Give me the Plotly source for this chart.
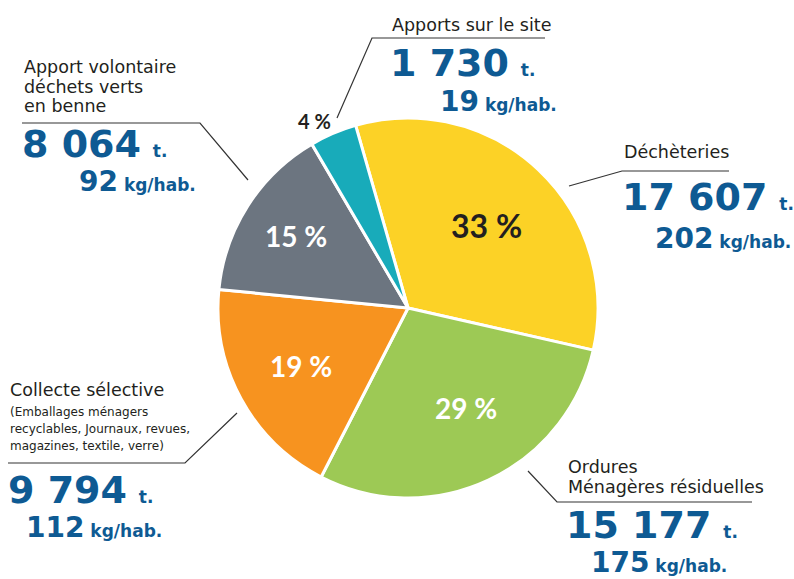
import math
import plotly.graph_objects as go

# ---- data ----
categories = ["Déchèteries", "Ordures Ménagères résiduelles", "Collecte sélective",
              "Apport volontaire déchets verts en benne", "Apports sur le site"]
percent = [33, 29, 19, 15, 4]
tonnes = ["17 607", "15 177", "9 794", "8 064", "1 730"]
kg_hab = ["202", "175", "112", "92", "19"]
colors = ["#FCD226", "#9DC955", "#F7931F", "#6C7580", "#18ABBA"]

W, H = 794, 579
CX, CY, R = 408, 308, 190
ROT = -16
BLUE = "#0E5A93"
DARK = "#231F20"
LBL_FONT = "DejaVu Sans"
NUM_FONT = "DejaVu Sans"
PCT_FONT = "Lato"


def px(x):
    return x / W


def py(y):
    return 1 - y / H


fig = go.Figure(go.Pie(
    labels=categories, values=percent, sort=False, direction="clockwise",
    rotation=ROT, marker=dict(colors=colors, line=dict(color="white", width=3)),
    textinfo="none", hoverinfo="label+percent", showlegend=False,
    domain=dict(x=[px(CX - R), px(CX + R)], y=[py(CY + R), py(CY - R)]),
))

annotations = []
shapes = []

# percent labels inside/outside the slices, placed from the data's angles
radius_factor = [0.60, 0.61, 0.64, 0.70, 1.10]
angle_offset = [0, -5, 0, 0, -3.5]
pct_colors = [DARK, "white", "white", "white", DARK]
pct_size = [32, 28, 28, 28, 20]
total = sum(percent)
cum = 0
for i, v in enumerate(percent):
    mid = ROT + (cum + v / 2) / total * 360 + angle_offset[i]
    cum += v
    a = math.radians(mid)
    r = R * radius_factor[i]
    x = CX + r * math.sin(a)
    y = CY - r * math.cos(a)
    annotations.append(dict(
        x=px(x), y=py(y), xref="paper", yref="paper", showarrow=False,
        text=f"<b>{v} %</b>",
        font=dict(family=PCT_FONT, size=pct_size[i], color=pct_colors[i], weight=900),
        xanchor="center", yanchor="middle"))


def add_block(title_lines, title_y, x0, idx, num_y, kg_x, kg_y, title_size=17.5, sub_lines=None, sub_y=None):
    for t, ty in zip(title_lines, title_y):
        annotations.append(dict(x=px(x0), y=py(ty), xref="paper", yref="paper", showarrow=False,
                                text=t, font=dict(family=LBL_FONT, size=title_size, color=DARK),
                                xanchor="left", yanchor="middle"))
    if sub_lines:
        for t, ty in zip(sub_lines, sub_y):
            annotations.append(dict(x=px(x0), y=py(ty), xref="paper", yref="paper", showarrow=False,
                                    text=t, font=dict(family=LBL_FONT, size=12, color=DARK),
                                    xanchor="left", yanchor="middle"))
    annotations.append(dict(
        x=px(x0 - 2), y=py(num_y), xref="paper", yref="paper", showarrow=False,
        text=f"<b>{tonnes[idx]}</b><span style='font-size:17px'><b> &nbsp;t.</b></span>",
        font=dict(family=NUM_FONT, size=38, color=BLUE), xanchor="left", yanchor="bottom"))
    annotations.append(dict(
        x=px(kg_x), y=py(kg_y), xref="paper", yref="paper", showarrow=False,
        text=f"<b>{kg_hab[idx]}</b><span style='font-size:17px'><b> kg/hab.</b></span>",
        font=dict(family=NUM_FONT, size=28, color=BLUE), xanchor="left", yanchor="bottom"))


def leader(points):
    path = "M " + " L ".join(f"{px(x)},{py(y)}" for x, y in points)
    shapes.append(dict(type="path", path=path, xref="paper", yref="paper",
                       line=dict(color="#333333", width=1.2)))


# Apport volontaire
add_block(["Apport volontaire", "déchets verts", "en benne"], [67, 87, 106], 22, 3, 168, 77, 200)
leader([(22, 123), (200, 123), (248, 180)])

# Apports sur le site
add_block(["Apports sur le site"], [25], 390, 4, 87, 438, 120)
leader([(545, 38), (372, 38), (337, 118)])

# Déchèteries
add_block(["Déchèteries"], [152], 622, 0, 221, 653, 257)
leader([(729, 171), (622, 171), (569, 186)])

# Collecte sélective
add_block(["Collecte sélective"], [390], 8, 2, 514, 24, 546,
          sub_lines=["(Emballages ménagers", "recyclables, Journaux, revues,", "magazines, textile, verre)"],
          sub_y=[412, 429, 446])
leader([(8, 463), (185, 463), (237, 413)])

# Ordures ménagères
add_block(["Ordures", "Ménagères résiduelles"], [467, 487], 566, 1, 549, 589, 581)
leader([(752, 502), (557, 502), (528, 471)])

fig.update_layout(
    width=W, height=H, margin=dict(l=0, r=0, t=0, b=0),
    paper_bgcolor="white", plot_bgcolor="white",
    annotations=annotations, shapes=shapes,
)

fig.write_html("out.html", config={"displayModeBar": False},
               post_script="document.body.style.margin='0';document.body.style.overflow='hidden';")
